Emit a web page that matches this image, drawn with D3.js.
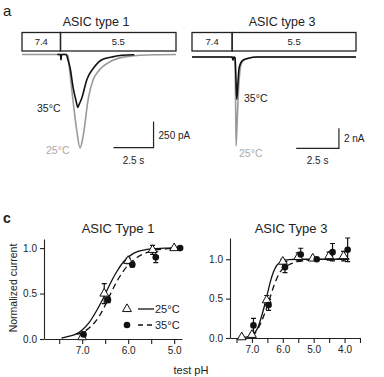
<!DOCTYPE html>
<html>
<head>
<meta charset="utf-8">
<script src="https://cdn.jsdelivr.net/npm/d3@7"></script>
<style>
  body { margin: 0; background: #fff; }
  svg { font-family: "Liberation Sans", Arial, sans-serif; }
</style>
</head>
<body>
<svg id="fig" width="384" height="377"></svg>
<script>
// ===== DATA =====
// panel a: current traces (time s from start of the pH bar, current pA)
const t1Black = [2.2, 2.40, 2.43, 2.46, 2.75, 2.88, 3.0, 3.19, 3.37, 3.48, 3.56, 3.73, 4.04, 4.46, 4.98, 5.6, 6.23, 7.0]
const i1Black = [0, 0, -50, 0, 0, -60, -130, -320, -445, -508, -480, -418, -242, -130, -50, -24, -7, -3]
const t1Gray = [0, 2.40, 2.43, 2.46, 2.75, 2.86, 3.0, 3.21, 3.42, 3.62, 3.81, 4.14, 4.44, 4.77, 5.6, 6.62, 8.3, 9.6]
const i1Gray = [0, 0, -50, 0, 0, -9, -194, -482, -738, -898, -785, -418, -240, -159, -60, -18, -2, 0]

const t3Black = [0, 2.35, 2.40, 2.45, 2.52, 2.58, 2.62, 2.68, 2.76, 2.96, 3.26, 3.85, 9.6]
const i3Black = [0, 0, -300, 0, -100, -2500, -4240, -2800, -1070, -340, -140, 0, 0]
const t3Gray = [0, 2.35, 2.40, 2.45, 2.50, 2.55, 2.58, 2.66, 2.75, 2.9, 3.2, 3.8, 9.6]
const i3Gray = [0, 0, -300, 0, -100, -4000, -8900, -5740, -2500, -600, -150, 0, 0]

const barLabels = ['7.4', '5.5']
const barEdges = [0, 2.4, 9.6]        // s, left panel
const barEdges3 = [0, 2.35, 9.6]      // s, right panel

// panel c: pH response, ASIC type 1
const c1TriPH = [7.0, 6.52, 6.0, 5.47, 5.0]
const c1TriV = [0.02, 0.50, 0.86, 0.98, 1.0]
const c1TriE = [0.02, 0.11, 0.03, 0.05, 0]
const c1DotPH = [6.97, 6.44, 5.91, 5.4, 4.87]
const c1DotV = [0.05, 0.43, 0.82, 0.90, 1.0]
const c1DotE = [0.03, 0.03, 0.03, 0.06, 0]
const c1FitPH25 = [7.45, 7.3, 7.15, 7.0, 6.85, 6.7, 6.55, 6.4, 6.25, 6.1, 5.95, 5.8, 5.6, 5.4, 5.2, 5.0, 4.85]
const c1FitV25 = [0.01, 0.03, 0.05, 0.10, 0.18, 0.30, 0.44, 0.60, 0.74, 0.85, 0.92, 0.96, 0.985, 0.995, 1, 1, 1]
const c1FitPH35 = [7.12, 7.0, 6.85, 6.7, 6.55, 6.4, 6.25, 6.1, 5.95, 5.8, 5.6, 5.4, 5.2, 5.0, 4.85]
const c1FitV35 = [0.05, 0.07, 0.12, 0.20, 0.32, 0.48, 0.63, 0.75, 0.84, 0.90, 0.95, 0.98, 0.99, 1, 1]

// ASIC type 3
const c3TriPH = [7.33, 7.0, 6.52, 6.0, 5.5, 5.03, 4.5, 4.03]
const c3TriV = [0.01, 0.04, 0.48, 0.97, 1.03, 1.01, 1.04, 1.04]
const c3TriE = [0, 0.02, 0.06, 0.03, 0.05, 0, 0.05, 0.06]
const c3DotPH = [6.95, 6.46, 5.93, 5.42, 4.9, 4.39, 3.9]
const c3DotV = [0.16, 0.42, 0.90, 1.06, 1.0, 1.09, 1.12]
const c3DotE = [0.09, 0.07, 0.07, 0.08, 0, 0.11, 0.15]
const c3FitPH25 = [7.45, 7.2, 7.0, 6.9, 6.8, 6.7, 6.6, 6.5, 6.4, 6.3, 6.2, 6.1, 6.0, 5.8, 5.5, 5.0, 4.5, 3.85]
const c3FitV25 = [0, 0.01, 0.03, 0.07, 0.14, 0.26, 0.40, 0.56, 0.72, 0.84, 0.92, 0.96, 0.98, 0.995, 1, 1, 1, 1]
const c3FitPH35 = [7.0, 6.9, 6.8, 6.7, 6.6, 6.5, 6.4, 6.3, 6.2, 6.1, 6.0, 5.8, 5.6, 5.4, 5.0, 4.5, 3.85]
const c3FitV35 = [0.03, 0.06, 0.12, 0.20, 0.30, 0.41, 0.53, 0.65, 0.75, 0.83, 0.88, 0.93, 0.96, 0.98, 0.995, 1, 1]

const pHTicks1 = [7.5, 7.0, 6.5, 6.0, 5.5, 5.0]
const pHTicks3 = [7.5, 7.0, 6.5, 6.0, 5.5, 5.0, 4.5, 4.0, 3.5]
const yTicks = [0, 0.5, 1.0]

const ink = '#222'
const gray = '#9a9a9a'
const svg = d3.select('#fig')

// ===== PANEL LABELS =====
svg.append('text').attr('x', 3).attr('y', 16).attr('font-size', 15).attr('fill', ink).text('a')
svg.append('text').attr('x', 3).attr('y', 223).attr('font-size', 14).attr('font-weight', 'bold').attr('fill', ink).text('c')

// ===== PANEL a =====
function drawTraces(opt) {
    const x = d3.scaleLinear().domain([0, 9.6]).range(opt.xr)
    const y = d3.scaleLinear().domain([0, opt.iMin]).range(opt.yr)
    const g = svg.append('g')

    g.append('text').attr('x', opt.titleX).attr('y', 26).attr('text-anchor', 'middle')
        .attr('font-size', 12.5).attr('fill', ink).text(opt.title)

    // pH bar
    opt.edges.slice(0, -1).forEach((e, k) => {
        g.append('rect')
            .attr('x', x(e)).attr('y', 32.5)
            .attr('width', x(opt.edges[k + 1]) - x(e)).attr('height', 18.5)
            .attr('fill', 'none').attr('stroke', ink).attr('stroke-width', 1.3)
        g.append('text').attr('x', (x(e) + x(opt.edges[k + 1])) / 2).attr('y', 45)
            .attr('text-anchor', 'middle').attr('font-size', 9.5).attr('fill', ink).text(barLabels[k])
    })

    const line = d3.line().x(d => x(d[0])).y(d => y(d[1])).curve(d3.curveMonotoneX)
    g.append('path').attr('d', line(d3.zip(opt.tg, opt.ig)))
        .attr('fill', 'none').attr('stroke', gray).attr('stroke-width', 1.6)
    g.append('path').attr('d', line(d3.zip(opt.tb, opt.ib)))
        .attr('fill', 'none').attr('stroke', '#111').attr('stroke-width', 1.6)

    g.append('text').attr('x', opt.l35[0]).attr('y', opt.l35[1]).attr('font-size', 10.5).attr('fill', ink).text('35°C')
    g.append('text').attr('x', opt.l25[0]).attr('y', opt.l25[1]).attr('font-size', 10.5).attr('fill', '#aaa').text('25°C')

    // scale bars
    const sb = opt.sb
    g.append('path')
        .attr('d', `M${x(sb.t0)},${y(sb.i0)} L${x(sb.t0 + 2.5)},${y(sb.i0)} L${x(sb.t0 + 2.5)},${y(sb.i0 + sb.di)}`)
        .attr('fill', 'none').attr('stroke', ink).attr('stroke-width', 1.2)
    g.append('text').attr('x', x(sb.t0 + 2.5) + 5).attr('y', (y(sb.i0) + y(sb.i0 + sb.di)) / 2 + 4)
        .attr('font-size', 10).attr('fill', ink).text(sb.label)
    g.append('text').attr('x', x(sb.t0 + 1.25)).attr('y', y(sb.i0) + 16)
        .attr('text-anchor', 'middle').attr('font-size', 10).attr('fill', ink).text('2.5 s')
}

drawTraces({
    title: 'ASIC type 1', titleX: 96, xr: [22, 176], edges: barEdges,
    iMin: -1000, yr: [54.5, 158.5],
    tb: t1Black, ib: i1Black, tg: t1Gray, ig: i1Gray,
    l35: [37, 112], l25: [46, 154],
    sb: { t0: 5.7, i0: -895, di: 250, label: '250 pA' }
})
drawTraces({
    title: 'ASIC type 3', titleX: 282, xr: [192, 356], edges: barEdges3,
    iMin: -10000, yr: [57, 157],
    tb: t3Black, ib: i3Black, tg: t3Gray, ig: i3Gray,
    l35: [244, 102], l25: [239, 157],
    sb: { t0: 6.1, i0: -9130, di: 2000, label: '2 nA' }
})

// ===== PANEL c =====
function drawDose(opt) {
    const x = d3.scaleLinear().domain(opt.xd).range(opt.xr)
    const y = d3.scaleLinear().domain(opt.yd).range(opt.yr)
    const g = svg.append('g')

    g.append('text').attr('x', opt.titleX).attr('y', 233).attr('text-anchor', 'middle')
        .attr('font-size', 13).attr('fill', ink).text(opt.title)

    const yAxis = d3.axisLeft(y).tickValues(yTicks).tickFormat(d3.format('.1f')).tickSize(4).tickSizeOuter(0)
    const xAxis = d3.axisBottom(x).tickValues(opt.ticks)
        .tickFormat(d => Number.isInteger(d) ? d.toFixed(1) : '').tickSize(5).tickSizeOuter(0)

    g.append('g').attr('transform', `translate(${opt.xr[0]},0)`).call(yAxis)
    g.append('g').attr('transform', `translate(0,${opt.yr[0]})`).call(xAxis)
    g.selectAll('.domain, .tick line').attr('stroke', ink).attr('stroke-width', 1.1)
    g.selectAll('.tick text').attr('fill', ink).attr('font-size', 10)
        .attr('font-family', '"Liberation Sans", Arial, sans-serif')

    const line = d3.line().x(d => x(d[0])).y(d => y(d[1])).curve(d3.curveMonotoneX)
    g.append('path').attr('d', line(d3.zip(opt.fp25, opt.fv25)))
        .attr('fill', 'none').attr('stroke', '#111').attr('stroke-width', 1.3)
    g.append('path').attr('d', line(d3.zip(opt.fp35, opt.fv35)))
        .attr('fill', 'none').attr('stroke', '#111').attr('stroke-width', 1.3).attr('stroke-dasharray', '6,4')

    const errBars = (ph, v, e) => {
        ph.forEach((p, k) => {
            if (!e[k]) return
            const cx = x(p)
            g.append('path')
                .attr('d', `M${cx},${y(v[k] - e[k])}V${y(v[k] + e[k])}M${cx - 2.5},${y(v[k] + e[k])}h5M${cx - 2.5},${y(v[k] - e[k])}h5`)
                .attr('stroke', '#111').attr('stroke-width', 1.2).attr('fill', 'none')
        })
    }
    errBars(opt.tp, opt.tv, opt.te)
    errBars(opt.dp, opt.dv, opt.de)

    const tri = d3.symbol().type(d3.symbolTriangle).size(34)
    opt.tp.forEach((p, k) => {
        g.append('path').attr('d', tri()).attr('transform', `translate(${x(p)},${y(opt.tv[k])})`)
            .attr('fill', '#fff').attr('stroke', '#111').attr('stroke-width', 1)
    })
    opt.dp.forEach((p, k) => {
        g.append('circle').attr('cx', x(p)).attr('cy', y(opt.dv[k])).attr('r', 3.3).attr('fill', '#111')
    })
    return g
}

const g1 = drawDose({
    title: 'ASIC Type 1', titleX: 118,
    xd: [7.83, 4.83], xr: [44, 182], yd: [0, 1.1], yr: [339, 239], ticks: pHTicks1,
    fp25: c1FitPH25, fv25: c1FitV25, fp35: c1FitPH35, fv35: c1FitV35,
    tp: c1TriPH, tv: c1TriV, te: c1TriE, dp: c1DotPH, dv: c1DotV, de: c1DotE
})
drawDose({
    title: 'ASIC Type 3', titleX: 291,
    xd: [7.71, 3.5], xr: [230, 360], yd: [0, 1.27], yr: [338, 238], ticks: pHTicks3,
    fp25: c3FitPH25, fv25: c3FitV25, fp35: c3FitPH35, fv35: c3FitV35,
    tp: c3TriPH, tv: c3TriV, te: c3TriE, dp: c3DotPH, dv: c3DotV, de: c3DotE
})

// legend (type 1 panel)
const leg = g1.append('g')
leg.append('path').attr('d', d3.symbol().type(d3.symbolTriangle).size(34)())
    .attr('transform', 'translate(127,309)').attr('fill', '#fff').attr('stroke', '#111')
leg.append('line').attr('x1', 138).attr('x2', 154).attr('y1', 309).attr('y2', 309).attr('stroke', '#111').attr('stroke-width', 1.3)
leg.append('text').attr('x', 155).attr('y', 313).attr('font-size', 11).attr('fill', ink).text('25°C')
leg.append('circle').attr('cx', 127).attr('cy', 325).attr('r', 3.3).attr('fill', '#111')
leg.append('line').attr('x1', 138).attr('x2', 154).attr('y1', 325).attr('y2', 325).attr('stroke', '#111')
    .attr('stroke-width', 1.3).attr('stroke-dasharray', '5,4')
leg.append('text').attr('x', 155).attr('y', 329).attr('font-size', 11).attr('fill', ink).text('35°C')

// shared axis labels
svg.append('text').attr('transform', 'translate(17,288) rotate(-90)').attr('text-anchor', 'middle')
    .attr('font-size', 10.5).attr('fill', ink).text('Normalized current')
svg.append('text').attr('x', 191).attr('y', 374).attr('text-anchor', 'middle')
    .attr('font-size', 11).attr('fill', ink).text('test pH')
</script>
</body>
</html>
